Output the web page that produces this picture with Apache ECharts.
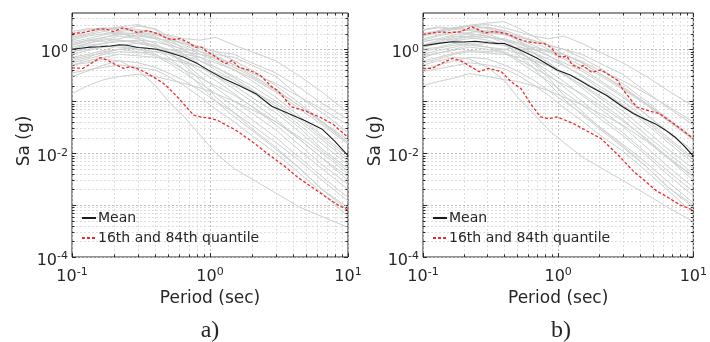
<!DOCTYPE html>
<html><head><meta charset="utf-8">
<script src="https://cdn.jsdelivr.net/npm/echarts@6/dist/echarts.min.js"></script>
<style>html,body{margin:0;padding:0;background:#fff}#c{width:710px;height:342px}</style>
</head><body><div id="c"></div>
<script>
// ---- data ----
const periods = [0.1, 0.13, 0.17, 0.22, 0.3, 0.4, 0.5, 0.65, 0.85, 1.1, 1.5, 2, 3, 4.5, 6.5, 10];

const recordsA = [
  [1.5,1.8,2.0,2.2,2.4,2.0,1.9,1.6,1.5,1.7,1.2,0.9,0.6,0.3,0.15,0.06],
  [2.0,2.4,2.6,2.3,2.8,2.5,1.8,1.4,1.1,0.9,0.8,0.55,0.35,0.18,0.09,0.045],
  [1.2,1.5,1.7,2.0,1.8,1.6,1.5,1.3,1.0,0.8,0.7,0.5,0.3,0.12,0.06,0.025],
  [0.9,1.1,1.3,1.5,1.4,1.2,1.0,0.8,0.7,0.55,0.4,0.28,0.15,0.07,0.035,0.015],
  [1.8,2.2,2.5,2.7,3.0,2.4,1.6,1.0,0.6,0.4,0.25,0.15,0.07,0.03,0.012,0.005],
  [0.6,0.7,0.9,1.0,1.1,1.0,0.9,0.75,0.6,0.45,0.3,0.2,0.1,0.045,0.02,0.008],
  [1.4,1.6,1.9,2.1,2.0,1.6,1.2,0.8,0.5,0.3,0.17,0.1,0.045,0.018,0.008,0.003],
  [0.5,0.6,0.7,0.8,0.75,0.7,0.65,0.55,0.45,0.35,0.25,0.16,0.09,0.04,0.018,0.007],
  [1.0,1.3,1.6,1.5,1.3,1.1,0.85,0.6,0.38,0.25,0.14,0.08,0.035,0.014,0.006,0.0025],
  [0.7,0.8,0.95,1.2,1.3,1.2,0.9,0.55,0.3,0.18,0.1,0.06,0.028,0.011,0.005,0.002],
  [0.14,0.2,0.26,0.3,0.33,0.3,0.26,0.22,0.18,0.14,0.1,0.07,0.04,0.02,0.01,0.004],
  [0.3,0.38,0.5,0.6,0.55,0.45,0.35,0.25,0.16,0.1,0.06,0.035,0.016,0.007,0.003,0.0012],
  [1.6,1.9,2.2,2.0,1.7,1.3,0.9,0.5,0.25,0.12,0.06,0.03,0.013,0.005,0.002,0.0008],
  [1.1,1.3,1.5,1.8,1.6,1.1,0.7,0.4,0.2,0.1,0.05,0.028,0.012,0.005,0.002,0.0009],
  [0.5,0.55,0.65,0.6,0.4,0.2,0.1,0.05,0.022,0.01,0.005,0.0032,0.0017,0.0009,0.0006,0.00037],
  [0.8,0.95,1.1,1.2,1.0,0.8,0.6,0.4,0.28,0.2,0.13,0.08,0.04,0.018,0.008,0.0035],
  [1.3,1.5,1.4,1.6,1.9,1.7,1.4,1.1,0.8,0.6,0.4,0.25,0.12,0.05,0.022,0.009],
  [2.2,2.5,2.3,2.6,2.4,2.1,1.7,1.2,0.9,0.65,0.45,0.3,0.16,0.08,0.04,0.018],
  [0.55,0.65,0.8,0.9,0.85,0.9,1.0,0.9,0.8,0.7,0.5,0.35,0.22,0.12,0.07,0.035],
  [0.9,1.0,1.2,1.1,1.0,0.9,0.8,0.6,0.45,0.3,0.2,0.12,0.06,0.025,0.011,0.0045],
  [1.7,2.0,2.4,2.6,2.2,1.9,1.6,1.3,1.1,0.9,0.6,0.4,0.2,0.09,0.04,0.016],
  [0.35,0.4,0.45,0.5,0.45,0.4,0.3,0.2,0.12,0.07,0.04,0.022,0.01,0.004,0.0017,0.0006],
  [1.2,1.4,1.7,1.9,2.1,1.8,1.3,0.95,0.7,0.45,0.28,0.17,0.08,0.034,0.015,0.006],
  [0.65,0.75,0.85,1.0,0.9,0.75,0.55,0.35,0.22,0.14,0.08,0.045,0.02,0.008,0.0035,0.0014],
  [1.0,1.2,1.3,1.4,1.5,1.4,1.2,1.0,0.9,0.75,0.5,0.32,0.17,0.08,0.038,0.016]
];

const recordsB = [
  [2.0,2.3,2.6,2.8,3.0,2.6,2.2,1.8,1.6,1.8,1.3,0.9,0.55,0.3,0.16,0.08],
  [2.3,2.6,2.4,2.9,3.2,3.4,2.6,1.8,1.2,0.8,0.55,0.35,0.18,0.09,0.045,0.02],
  [1.5,1.8,2.1,2.4,2.2,2.0,1.7,1.5,1.2,1.0,0.8,0.55,0.33,0.15,0.075,0.035],
  [1.1,1.3,1.6,1.8,1.7,1.5,1.3,1.0,0.75,0.55,0.38,0.24,0.12,0.055,0.026,0.011],
  [1.9,2.2,2.6,2.4,2.7,2.2,1.5,0.9,0.55,0.35,0.2,0.12,0.055,0.022,0.01,0.004],
  [0.7,0.85,1.0,1.2,1.3,1.2,1.05,0.85,0.65,0.48,0.32,0.2,0.1,0.045,0.02,0.008],
  [1.6,1.9,2.2,2.0,1.8,1.5,1.2,0.85,0.55,0.33,0.18,0.1,0.045,0.018,0.008,0.003],
  [0.55,0.65,0.8,0.9,0.85,0.8,0.72,0.6,0.48,0.36,0.25,0.16,0.085,0.04,0.018,0.0075],
  [1.2,1.5,1.8,1.7,1.5,1.2,0.9,0.6,0.38,0.24,0.13,0.075,0.033,0.013,0.0055,0.0022],
  [0.8,0.95,1.1,1.3,1.4,1.3,1.0,0.6,0.32,0.19,0.1,0.055,0.025,0.01,0.0045,0.0018],
  [0.2,0.24,0.28,0.34,0.3,0.26,0.24,0.2,0.16,0.12,0.085,0.06,0.035,0.017,0.008,0.0035],
  [0.4,0.5,0.6,0.7,0.65,0.5,0.38,0.26,0.16,0.1,0.058,0.033,0.015,0.0065,0.0028,0.0011],
  [1.8,2.1,2.4,2.3,2.0,1.5,1.0,0.55,0.28,0.13,0.065,0.032,0.014,0.0055,0.0022,0.0009],
  [1.2,1.4,1.7,2.0,1.8,1.3,0.8,0.45,0.22,0.11,0.055,0.03,0.013,0.0055,0.0022,0.001],
  [0.5,0.6,0.7,0.65,0.45,0.25,0.12,0.06,0.028,0.016,0.0085,0.0055,0.003,0.0016,0.0009,0.00048],
  [0.9,1.05,1.2,1.3,1.1,0.9,0.65,0.45,0.3,0.21,0.14,0.085,0.042,0.019,0.0085,0.0036],
  [1.4,1.6,1.5,1.8,2.1,1.9,1.6,1.2,0.9,0.65,0.42,0.26,0.13,0.055,0.025,0.01],
  [2.4,2.7,2.5,2.8,2.6,2.3,1.9,1.4,1.0,0.7,0.48,0.32,0.17,0.085,0.042,0.019],
  [0.6,0.7,0.85,0.95,0.9,1.0,1.1,1.0,0.9,0.8,0.58,0.4,0.25,0.14,0.08,0.04],
  [1.0,1.1,1.3,1.2,1.1,1.0,0.85,0.65,0.48,0.32,0.21,0.13,0.065,0.027,0.012,0.005],
  [1.9,2.2,2.6,2.9,2.5,2.1,1.8,1.5,1.2,1.0,0.68,0.45,0.22,0.1,0.045,0.018],
  [0.38,0.42,0.48,0.55,0.5,0.42,0.32,0.21,0.13,0.075,0.042,0.023,0.011,0.0045,0.0019,0.0007],
  [1.4,1.6,1.9,2.1,2.3,2.0,1.5,1.05,0.75,0.5,0.3,0.18,0.085,0.036,0.016,0.0065],
  [0.75,0.85,0.95,1.1,1.0,0.85,0.6,0.38,0.24,0.15,0.085,0.048,0.022,0.009,0.0038,0.0015],
  [1.1,1.3,1.45,1.6,1.7,1.6,1.35,1.1,0.95,0.8,0.55,0.35,0.19,0.09,0.042,0.018]
];

const meanPeriodsA = [0.1,0.12,0.135,0.16,0.19,0.22,0.25,0.3,0.35,0.41,0.52,0.64,0.81,1.0,1.23,1.62,2.15,2.8,3.7,4.9,6.5,8.0,10];
const meanA = [1.0,1.06,1.1,1.12,1.16,1.22,1.2,1.08,1.05,1.0,0.85,0.71,0.53,0.38,0.28,0.2,0.14,0.08,0.058,0.042,0.029,0.017,0.009];
const q84PeriodsA = [0.1,0.12,0.14,0.16,0.18,0.2,0.235,0.27,0.3,0.35,0.42,0.49,0.55,0.61,0.7,0.78,0.87,0.95,1.05,1.2,1.3,1.45,1.62,1.9,2.3,2.8,3.1,3.9,4.9,6.2,7.8,10];
const q84A = [2.0,2.1,2.3,2.5,2.4,2.2,2.6,2.3,2.1,2.3,2.0,1.6,1.55,1.6,1.35,1.1,1.1,0.9,0.78,0.6,0.53,0.61,0.45,0.4,0.32,0.19,0.16,0.078,0.065,0.05,0.036,0.02];
const q16PeriodsA = [0.1,0.12,0.14,0.16,0.18,0.2,0.236,0.26,0.295,0.34,0.39,0.45,0.49,0.55,0.61,0.68,0.76,0.85,1.0,1.13,1.33,1.53,2.0,2.8,3.5,4.4,5.5,7,8.5,10];
const q16A = [0.44,0.43,0.55,0.69,0.62,0.53,0.43,0.46,0.43,0.36,0.29,0.23,0.19,0.14,0.105,0.075,0.054,0.05,0.047,0.043,0.034,0.028,0.017,0.0085,0.0055,0.0033,0.0022,0.0014,0.001,0.0008];

const meanPeriodsB = [0.1,0.13,0.166,0.2,0.245,0.306,0.35,0.4,0.45,0.5,0.6,0.7,0.85,0.98,1.23,1.45,1.71,2.27,3.0,3.6,4.4,5.2,6.2,7.3,8.5,10];
const meanB = [1.17,1.3,1.4,1.38,1.43,1.34,1.3,1.29,1.15,1.02,0.82,0.67,0.5,0.4,0.32,0.25,0.195,0.13,0.078,0.058,0.045,0.037,0.028,0.0205,0.014,0.0088];
const q84PeriodsB = [0.1,0.13,0.16,0.185,0.23,0.29,0.33,0.36,0.43,0.5,0.56,0.65,0.79,0.9,0.98,1.06,1.16,1.27,1.45,1.52,1.77,2.08,2.76,3.0,3.8,4.8,5.6,6.6,8,10];
const q84B = [1.94,2.15,2.1,2.15,2.7,2.06,2.2,2.15,1.94,1.6,1.45,1.35,1.29,1.05,0.75,0.71,0.74,0.5,0.43,0.49,0.36,0.4,0.25,0.17,0.078,0.064,0.058,0.043,0.03,0.019];
const q16PeriodsB = [0.1,0.117,0.14,0.166,0.19,0.207,0.23,0.26,0.306,0.38,0.45,0.53,0.63,0.74,0.85,0.98,1.3,1.58,2.08,2.8,3.6,4.4,5.3,6.5,8,10];
const q16B = [0.43,0.43,0.55,0.67,0.6,0.53,0.45,0.37,0.43,0.37,0.235,0.175,0.087,0.05,0.046,0.05,0.037,0.028,0.019,0.009,0.0045,0.0029,0.0019,0.0014,0.001,0.0008];

// tick / grid positions
const xMajorTicks = [0.1, 1, 10];
const xMinorTicks = [0.2,0.3,0.4,0.5,0.6,0.7,0.8,0.9,2,3,4,5,6,7,8,9];
const yMajorTicks = [0.0001, 0.001, 0.01, 0.1, 1];
const yMinorTicks = [0.0002,0.0003,0.0004,0.0005,0.0006,0.0007,0.0008,0.0009,
  0.002,0.003,0.004,0.005,0.006,0.007,0.008,0.009,
  0.02,0.03,0.04,0.05,0.06,0.07,0.08,0.09,
  0.2,0.3,0.4,0.5,0.6,0.7,0.8,0.9, 2,3,4];
const yLabelExponents = [0, -2, -4];
const xLabel = 'Period (sec)';
const yLabel = 'Sa (g)';
const panelTags = ['a)', 'b)'];
const meanName = 'Mean';
const quantName = '16th and 84th quantile';

// ---- chart ----
const FONT = 'DejaVu Sans';
const TXT = '#262626';
const grids = [
  {left: 72, top: 13, width: 276, height: 244},
  {left: 423, top: 13, width: 276, height: 244}
];

function expLabel(v, allowed) {
  const l = Math.log10(v);
  const e = Math.round(l);
  if (Math.abs(l - e) > 1e-6) return '';
  if (allowed && allowed.indexOf(e) < 0) return '';
  return '{b|10}{s|' + (e < 0 ? '-' : '') + Math.abs(e) + '}';
}
const rich = {
  b: {fontSize: 16, fontFamily: FONT, color: TXT, verticalAlign: 'bottom'},
  s: {fontSize: 11, fontFamily: FONT, color: TXT, verticalAlign: 'top', padding: [0, 0, 7, 0]}
};

function zip(xs, ys) { return xs.map((x, i) => [x, ys[i]]); }

function gridRender(isX) {
  return function (params, api) {
    const cs = params.coordSys;
    const major = api.value(2) === 2;
    const color = major ? '#bdbdbd' : '#dedede';
    const tl = major ? 4 : 2.5;
    const kids = [];
    if (isX) {
      const x = Math.round(api.coord([api.value(0), 1])[0]) + 0.5;
      kids.push({type: 'line', shape: {x1: x, y1: cs.y, x2: x, y2: cs.y + cs.height},
        style: {stroke: color, lineWidth: 1, lineDash: [2, 2]}});
      kids.push({type: 'line', shape: {x1: x, y1: cs.y + cs.height, x2: x, y2: cs.y + cs.height - tl},
        style: {stroke: TXT, lineWidth: 1}});
      kids.push({type: 'line', shape: {x1: x, y1: cs.y, x2: x, y2: cs.y + tl},
        style: {stroke: TXT, lineWidth: 1}});
    } else {
      const y = Math.round(api.coord([1, api.value(1)])[1]) + 0.5;
      kids.push({type: 'line', shape: {x1: cs.x, y1: y, x2: cs.x + cs.width, y2: y},
        style: {stroke: color, lineWidth: 1, lineDash: [2, 2]}});
      kids.push({type: 'line', shape: {x1: cs.x, y1: y, x2: cs.x + tl, y2: y},
        style: {stroke: TXT, lineWidth: 1}});
      kids.push({type: 'line', shape: {x1: cs.x + cs.width, y1: y, x2: cs.x + cs.width - tl, y2: y},
        style: {stroke: TXT, lineWidth: 1}});
    }
    return {type: 'group', children: kids};
  };
}

const xAxes = [], yAxes = [], series = [], legends = [], graphics = [];
const panels = [
  {records: recordsA, mT: meanPeriodsA, m: meanA, hT: q84PeriodsA, h: q84A, lT: q16PeriodsA, l: q16A},
  {records: recordsB, mT: meanPeriodsB, m: meanB, hT: q84PeriodsB, h: q84B, lT: q16PeriodsB, l: q16B}
];
panels.forEach((p, gi) => {
  xAxes.push({
    type: 'log', logBase: 10, gridIndex: gi, min: 0.1, max: 10,
    axisLine: {show: false}, axisTick: {show: false}, splitLine: {show: false}, minorTick: {show: false},
    axisLabel: {margin: 10, formatter: v => expLabel(v), rich: rich, showMinLabel: true, showMaxLabel: true},
    name: xLabel, nameLocation: 'middle', nameGap: 31,
    nameTextStyle: {fontSize: 17, fontFamily: FONT, color: TXT}
  });
  yAxes.push({
    type: 'log', logBase: 10, gridIndex: gi, min: 0.0001, max: 5,
    axisLine: {show: false}, axisTick: {show: false}, splitLine: {show: false}, minorTick: {show: false},
    axisLabel: {margin: 4, formatter: v => expLabel(v, yLabelExponents), rich: rich, padding: [6, 0, 0, 0]},
    name: yLabel, nameLocation: 'middle', nameGap: 33,
    nameTextStyle: {fontSize: 17, fontFamily: FONT, color: TXT, padding: [0, 12, 0, 0]}
  });
  series.push({
    type: 'custom', xAxisIndex: gi, yAxisIndex: gi, z: 0, silent: true,
    renderItem: gridRender(true),
    data: xMajorTicks.map(v => [v, 1, 2]).concat(xMinorTicks.map(v => [v, 1, 1]))
  });
  series.push({
    type: 'custom', xAxisIndex: gi, yAxisIndex: gi, z: 0, silent: true,
    renderItem: gridRender(false),
    data: yMajorTicks.map(v => [1, v, 2]).concat(yMinorTicks.map(v => [1, v, 1]))
  });
  p.records.forEach((r, ri) => {
    series.push({
      type: 'line', name: 'record', xAxisIndex: gi, yAxisIndex: gi, z: 2,
      showSymbol: false, symbol: 'none', silent: true,
      lineStyle: {color: '#cdd0d0', width: 1},
      data: zip(periods, r)
    });
  });
  series.push({
    type: 'line', name: meanName, xAxisIndex: gi, yAxisIndex: gi, z: 3,
    showSymbol: false, symbol: 'none',
    lineStyle: {color: '#1a1a1a', width: 1.1},
    itemStyle: {color: '#1a1a1a'},
    data: zip(p.mT, p.m)
  });
  [[p.hT, p.h], [p.lT, p.l]].forEach(q => {
    series.push({
      type: 'line', name: quantName, xAxisIndex: gi, yAxisIndex: gi, z: 4,
      showSymbol: false, symbol: 'none',
      lineStyle: {color: '#ee2b2b', width: 1.3, type: [3, 2]},
      itemStyle: {color: '#ee2b2b'},
      data: zip(q[0], q[1])
    });
  });
  legends.push({
    left: grids[gi].left + 9, top: 211, orient: 'vertical', padding: 0,
    itemWidth: 14, itemHeight: 10, itemGap: 6,
    itemStyle: {opacity: 0},
    data: [meanName, quantName],
    textStyle: {fontSize: 14, fontFamily: FONT, color: TXT, padding: [0, 0, 0, -3]}
  });
  graphics.push({
    type: 'text', x: grids[gi].left + grids[gi].width / 2, y: 331,
    style: {text: panelTags[gi], font: '24px "Liberation Serif"', fill: TXT,
      textAlign: 'center', textVerticalAlign: 'middle'}
  });
});

const chart = echarts.init(document.getElementById('c'), null, {renderer: 'canvas'});
chart.setOption({
  animation: false,
  backgroundColor: '#fff',
  grid: grids.map(g => Object.assign({show: true, borderColor: TXT, borderWidth: 1, backgroundColor: 'transparent'}, g)),
  xAxis: xAxes,
  yAxis: yAxes,
  legend: legends,
  series: series,
  graphic: graphics
});
</script></body></html>
